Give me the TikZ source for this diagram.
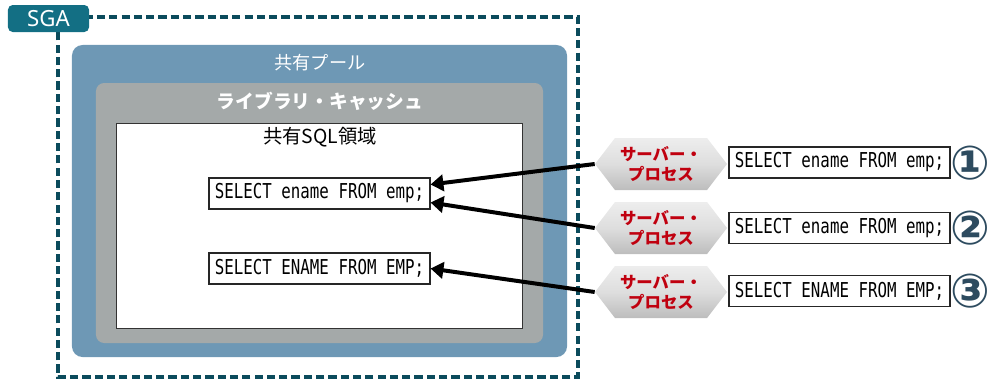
\documentclass[tikz,border=0pt]{standalone}
\usepackage{fontspec}
\usetikzlibrary{shapes.symbols,arrows.meta}
\newfontfamily\jp{Noto Sans CJK JP}
\newfontfamily\monoc[FakeStretch=0.77]{DejaVu Sans Mono}
\newfontfamily\dejavu{DejaVu Sans}
\newfontfamily\sgafont{Noto Sans}
\definecolor{tabcol}{HTML}{136F84}
\definecolor{dashcol}{HTML}{0B4B5C}
\definecolor{poolcol}{HTML}{6E98B5}
\definecolor{libcol}{HTML}{A4A9A9}
\definecolor{numcol}{HTML}{2D4B5F}
\definecolor{redtxt}{HTML}{C0000F}
\tikzset{
  sgatab/.style={fill=tabcol, rounded corners=4pt, text=white, minimum width=2.43cm, minimum height=0.81cm, inner sep=0pt, font=\sgafont\fontsize{19}{21}\selectfont},
  sgaline/.style={draw=dashcol, line width=2.6pt, dash pattern=on 7pt off 3.5pt},
  poolbox/.style={fill=poolcol, rounded corners=9pt, minimum width=14.85cm, minimum height=9.36cm, inner sep=0pt},
  libbox/.style={fill=libcol, rounded corners=7pt, minimum width=13.41cm, minimum height=7.8cm, inner sep=0pt},
  areabox/.style={fill=white, draw=black!80, line width=0.8pt, minimum width=12.18cm, minimum height=6.15cm, inner sep=0pt},
  whitelabel/.style={text=white, font=\jp\fontsize{15.5}{17}\selectfont},
  sqlbox/.style={fill=white, draw=black!85, line width=0.9pt, minimum width=6.63cm, minimum height=0.93cm, inner sep=0pt, font=\monoc\fontsize{17.5}{19}\selectfont},
  hexbox/.style={shape=signal, signal to=west and east, signal pointer angle=105, top color=black!7, bottom color=black!26, middle color=black!13, draw=none, minimum width=3.96cm, minimum height=1.56cm, inner sep=0pt, text=redtxt, align=center, font=\jp\bfseries\fontsize{14}{17.5}\selectfont},
  numlabel/.style={text=numcol, inner sep=0pt, font=\dejavu\bfseries\fontsize{40}{42}\selectfont},
  arr/.style={draw=black, line width=3.4pt, -{Triangle[length=11pt,width=14pt]}}
}
\begin{document}
\begin{tikzpicture}[x=0.03cm,y=-0.03cm]
\useasboundingbox (0,0) rectangle (993,380);
% SGA dashed outline
\draw[sgaline] (60,17) -- (578,17) -- (578,377) -- (58,377) -- (58,28);
\node[sgatab] (sga) at (48.5,18.5) {SGA};
% shared pool
\node[poolbox] (pool) at (319.5,201) {};
\node[whitelabel] (poollbl) at (320,63) {共有プール};
% library cache
\node[libbox] (lib) at (319.5,213) {};
\node[whitelabel, font=\jp\bfseries\fontsize{16}{18}\selectfont] (liblbl) at (320,101) {ライブラリ・キャッシュ};
% shared SQL area
\node[areabox] (area) at (319,225.5) {};
\node[font=\jp\fontsize{16.5}{18}\selectfont] (arealbl) at (320,137) {共有SQL領域};
\node[sqlbox] (box1) at (319.5,193.5) {SELECT ename FROM emp;};
\node[sqlbox] (box2) at (319.5,268.5) {SELECT ENAME FROM EMP;};
% server processes
\node[hexbox] (hex1) at (661,164) {サーバー・\\プロセス};
\node[hexbox] (hex2) at (661,228) {サーバー・\\プロセス};
\node[hexbox] (hex3) at (661,292) {サーバー・\\プロセス};
\node[sqlbox] (rq1) at (839.5,162.5) {SELECT ename FROM emp;};
\node[sqlbox] (rq2) at (839.5,228) {SELECT ename FROM emp;};
\node[sqlbox] (rq3) at (839.5,291) {SELECT ENAME FROM EMP;};
\node[numlabel] (n1) at (970,163) {①};
\node[numlabel] (n2) at (970,228) {②};
\node[numlabel] (n3) at (970,291) {③};
% arrows
\draw[arr] (hex1.west) -- ([yshift=0.27cm]box1.east);
\draw[arr] (hex2.west) -- ([yshift=-0.27cm]box1.east);
\draw[arr] (hex3.west) -- (box2.east);
\end{tikzpicture}
\end{document}
